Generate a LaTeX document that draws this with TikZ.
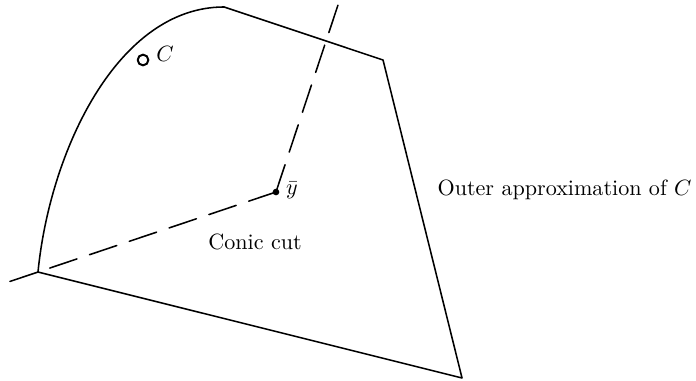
\documentclass[tikz,border=0pt]{standalone}
\usepackage{amsmath,amssymb}
\usetikzlibrary{calc}

\begin{document}
\begin{tikzpicture}[scale=1,>=stealth, line join=round, line cap=round, line width=0.7pt,
	cutline/.style={dashed, dash pattern=on 13pt off 6pt}]
	\useasboundingbox (0,0) rectangle (11.066,6.042);
	% [Skeleton points - Layer 1]
	\coordinate (A) at (0.604,1.717);
	\coordinate (B) at (7.346,0.032);
	\coordinate (D) at (6.090,5.088);
	\coordinate (T) at (3.562,5.931);
	\coordinate (Y) at (4.388,2.989);
	\coordinate (U) at (5.374,5.963);
	\coordinate (L) at ($(A)!-0.118!(Y)$);
	
	% [Set C and outer approximation - Layer 2]
	\draw (A) .. controls (0.795,3.657) and (1.876,5.931) .. (T);
	\draw (T) -- (D) -- (B) -- (A);
	
	% [Conic cut - Layer 3]
	\draw[cutline] (Y) -- (A);
	\draw[cutline] (Y) -- (U);
	\draw (A) -- (L);
	
	% [Labels - Layer 4]
	\fill (Y) circle (1.5pt);
	\node[draw, circle, line width=0.9pt, inner sep=0pt, minimum size=0.17cm] (pC) at (2.274,5.088) {};
	\node (lC) at (2.624,5.183) {$C$};
	\node (lY) at (4.643,3.021) {$\bar{y}$};
	\node (lcut) at (4.055,2.194) {Conic cut};
	\node (louter) at (8.976,3.021) {Outer approximation of $C$};
\end{tikzpicture}
\end{document}
